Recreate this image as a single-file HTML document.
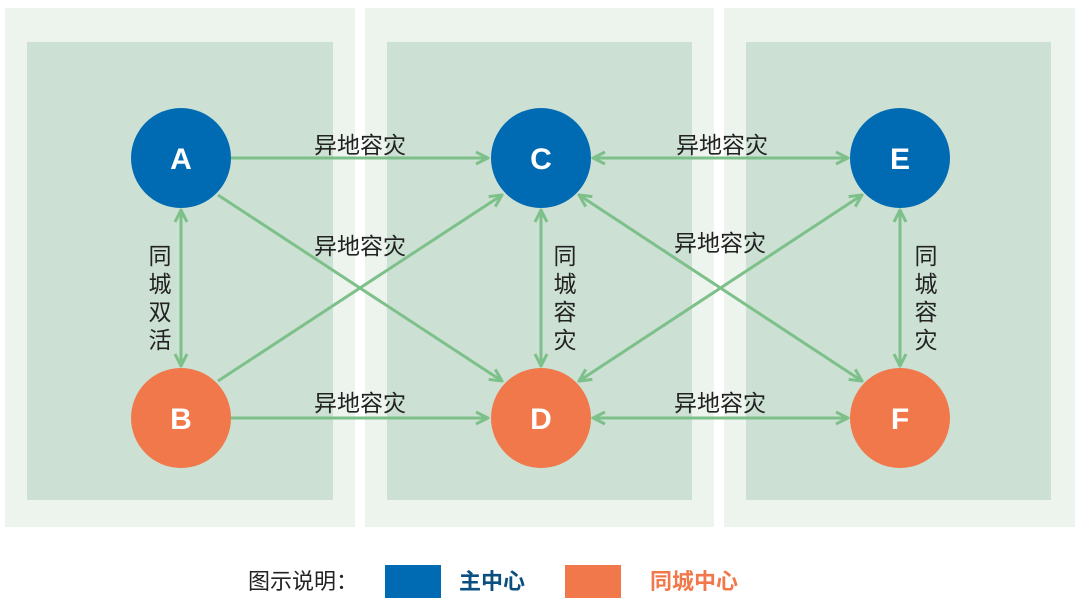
<!DOCTYPE html>
<html><head><meta charset="utf-8"><style>
body{margin:0;width:1080px;height:601px;background:#fff;overflow:hidden;font-family:"Liberation Sans","Noto Sans CJK SC",sans-serif}
</style></head><body>
<svg width="1080" height="601" xmlns="http://www.w3.org/2000/svg">
<defs>
<marker id="ah" viewBox="0 0 10 10" refX="9" refY="5" markerWidth="5" markerHeight="5" orient="auto-start-reverse">
<path d="M1,1 L9,5 L1,9" fill="none" stroke="#7dc08a" stroke-width="2"/>
</marker>
</defs>
<g fill="#edf4ee">
<rect x="5" y="8" width="350" height="519"/>
<rect x="365" y="8" width="349" height="519"/>
<rect x="724" y="8" width="351" height="519"/>
</g>
<g fill="#cce1d4">
<rect x="27" y="42" width="306" height="458"/>
<rect x="387" y="42" width="305" height="458"/>
<rect x="746" y="42" width="305" height="458"/>
</g>
<g stroke="#7dc08a" stroke-width="3" fill="none">
<line x1="231" y1="158" x2="488" y2="158" marker-end="url(#ah)"/>
<line x1="593" y1="158" x2="848" y2="158" marker-start="url(#ah)" marker-end="url(#ah)"/>
<line x1="231" y1="418" x2="488" y2="418" marker-end="url(#ah)"/>
<line x1="593" y1="418" x2="848" y2="418" marker-start="url(#ah)" marker-end="url(#ah)"/>
<line x1="181" y1="210" x2="181" y2="366" marker-start="url(#ah)" marker-end="url(#ah)"/>
<line x1="541" y1="210" x2="541" y2="366" marker-start="url(#ah)" marker-end="url(#ah)"/>
<line x1="900" y1="210" x2="900" y2="366" marker-start="url(#ah)" marker-end="url(#ah)"/>
<line x1="218" y1="195" x2="502" y2="381" marker-end="url(#ah)"/>
<line x1="218" y1="381" x2="502" y2="195" marker-end="url(#ah)"/>
<line x1="579" y1="381" x2="862" y2="195" marker-start="url(#ah)" marker-end="url(#ah)"/>
<line x1="579" y1="195" x2="862" y2="381" marker-start="url(#ah)" marker-end="url(#ah)"/>
</g>
<g fill="#006bb3"><circle cx="181" cy="158" r="50"/><circle cx="541" cy="158" r="50"/><circle cx="900" cy="158" r="50"/></g>
<g fill="#f0784a"><circle cx="181" cy="418" r="50"/><circle cx="541" cy="418" r="50"/><circle cx="900" cy="418" r="50"/></g>
<g fill="#fff" font-size="30" font-weight="bold" text-anchor="middle">
<text x="181" y="169">A</text><text x="541" y="169">C</text><text x="900" y="169">E</text>
<text x="181" y="429">B</text><text x="541" y="429">D</text><text x="900" y="429">F</text>
</g>
<g fill="#222" font-size="23" text-anchor="middle">
<text x="360" y="153">异地容灾</text>
<text x="722" y="153">异地容灾</text>
<text x="360" y="254">异地容灾</text>
<text x="720" y="251">异地容灾</text>
<text x="360" y="411">异地容灾</text>
<text x="720" y="411">异地容灾</text>
<text x="160" y="264">同</text><text x="160" y="292">城</text><text x="160" y="320">双</text><text x="160" y="348">活</text>
<text x="565" y="264">同</text><text x="565" y="292">城</text><text x="565" y="320">容</text><text x="565" y="348">灾</text>
<text x="926" y="264">同</text><text x="926" y="292">城</text><text x="926" y="320">容</text><text x="926" y="348">灾</text>
</g>
<text x="248" y="589" font-size="22" fill="#222">图示说明：</text>
<rect x="385" y="565" width="56" height="33" fill="#006bb3"/>
<text x="459" y="589" font-size="22" font-weight="bold" fill="#0a4f80">主中心</text>
<rect x="565" y="565" width="56" height="33" fill="#f0784a"/>
<text x="650" y="589" font-size="22" font-weight="bold" fill="#f0784a">同城中心</text>
</svg>
</body></html>
